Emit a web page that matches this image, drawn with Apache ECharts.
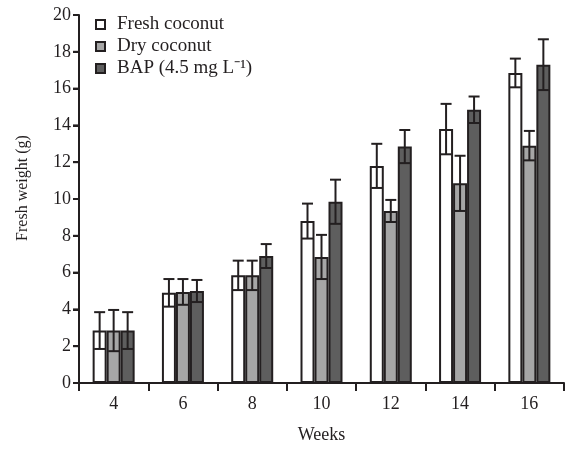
<!DOCTYPE html>
<html>
<head>
<meta charset="utf-8">
<script src="https://cdn.jsdelivr.net/npm/echarts@6/dist/echarts.min.js"></script>
<style>
  html, body { margin: 0; padding: 0; background: #fff; }
  #chart { width: 565px; height: 449px; }
</style>
</head>
<body>
<div id="chart"></div>
<script>
/* fresh weight by week, three treatments, mean +/- error */
var weeks = ['4', '6', '8', '10', '12', '14', '16'];
var freshMean = [2.85, 4.9, 5.85, 8.8, 11.8, 13.8, 16.85];
var freshErr = [1.0, 0.75, 0.8, 0.95, 1.2, 1.37, 0.78];
var dryMean = [2.85, 4.95, 5.85, 6.85, 9.35, 10.85, 12.9];
var dryErr = [1.12, 0.7, 0.8, 1.2, 0.6, 1.5, 0.8];
var bapMean = [2.85, 5.0, 6.9, 9.85, 12.85, 14.85, 17.3];
var bapErr = [1.0, 0.6, 0.65, 1.2, 0.9, 0.72, 1.38];
var yTicks = [0, 20, 2]; // min, max, step
var yTickValues = [0, 2, 4, 6, 8, 10, 12, 14, 16, 18, 20];

var ink = '#231f20';
var font = 'Liberation Serif';

function barSeries(name, data, fill) {
    return {
        name: name,
        type: 'bar',
        data: data,
        barWidth: 14,
        barGap: '0%',
        itemStyle: { color: fill, borderColor: ink, borderWidth: 2 },
        z: 2
    };
}

function errSeries(mean, err, offset) {
    return {
        type: 'custom',
        data: weeks.map(function (w, i) { return [i, mean[i], err[i]]; }),
        encode: { x: 0, y: 1 },
        z: 5,
        silent: true,
        renderItem: function (params, api) {
            var i = api.value(0), m = api.value(1), e = api.value(2);
            var hi = api.coord([i, m + e]);
            var lo = api.coord([i, m - e]);
            var x = hi[0] + offset;
            var cap = 5.5;
            var st = { stroke: ink, lineWidth: 2 };
            return {
                type: 'group',
                children: [
                    { type: 'line', shape: { x1: x, y1: hi[1], x2: x, y2: lo[1] }, style: st },
                    { type: 'line', shape: { x1: x - cap, y1: hi[1], x2: x + cap, y2: hi[1] }, style: st },
                    { type: 'line', shape: { x1: x - cap, y1: lo[1], x2: x + cap, y2: lo[1] }, style: st }
                ]
            };
        }
    };
}

// y axis tick marks, placed through the value scale
var yTickSeries = {
    type: 'custom',
    data: yTickValues.map(function (v) { return [0, v]; }),
    encode: { x: 0, y: 1 },
    z: 6,
    silent: true,
    clip: false,
    renderItem: function (params, api) {
        var p = api.coord([0, api.value(1)]);
        var left = params.coordSys.x;
        return {
            type: 'line',
            shape: { x1: left - 6, y1: p[1], x2: left, y2: p[1] },
            style: { stroke: ink, lineWidth: 2 }
        };
    }
};

var chart = echarts.init(document.getElementById('chart'));
chart.setOption({
    backgroundColor: '#fff',
    animation: false,
    textStyle: { fontFamily: font, color: ink },
    grid: { left: 79, right: 1, top: 15, bottom: 62 },
    legend: {
        data: ['Fresh coconut', 'Dry coconut', 'BAP (4.5 mg L\u207B\u00B9)'],
        orient: 'vertical',
        left: 95,
        top: 15,
        padding: 0,
        itemWidth: 9,
        itemHeight: 9,
        itemGap: 3,
        icon: 'rect',
        textStyle: { fontFamily: font, fontSize: 19, color: ink, lineHeight: 19, padding: [0, 0, 0, 7] }
    },
    xAxis: {
        type: 'category',
        data: weeks,
        name: 'Weeks',
        nameLocation: 'middle',
        nameGap: 43,
        nameTextStyle: { fontFamily: font, fontSize: 18, color: ink },
        axisLine: { show: true, lineStyle: { color: ink, width: 2 } },
        axisTick: { show: true, inside: false, length: 8, lineStyle: { color: ink, width: 2 } },
        axisLabel: { fontFamily: font, fontSize: 18, color: ink, margin: 12 }
    },
    yAxis: {
        type: 'value',
        min: yTicks[0],
        max: yTicks[1],
        interval: yTicks[2],
        name: 'Fresh weight (g)',
        nameLocation: 'middle',
        nameGap: 48,
        nameTextStyle: { fontFamily: font, fontSize: 16, color: ink, padding: [0, 0, 0, 22] },
        axisLine: { show: true, onZero: false, lineStyle: { color: ink, width: 2 } },
        axisTick: { show: true, inside: false, length: 6, lineStyle: { color: ink, width: 2 } },
        splitLine: { show: false },
        axisLabel: { fontFamily: font, fontSize: 18, color: ink, margin: 8 }
    },
    series: [
        barSeries('Fresh coconut', freshMean, '#ffffff'),
        barSeries('Dry coconut', dryMean, '#a6a6a6'),
        barSeries('BAP (4.5 mg L\u207B\u00B9)', bapMean, '#5e5e5e'),
        errSeries(freshMean, freshErr, -14),
        errSeries(dryMean, dryErr, 0),
        errSeries(bapMean, bapErr, 14),
        yTickSeries
    ]
});
</script>
</body>
</html>
